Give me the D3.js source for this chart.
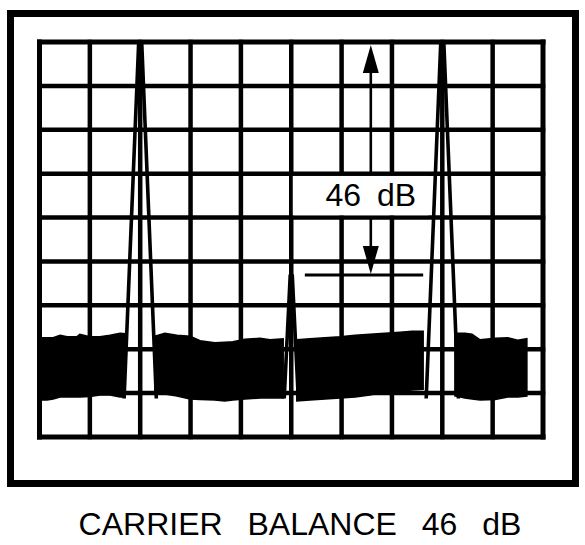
<!DOCTYPE html>
<html><head><meta charset="utf-8">
<script src="https://cdn.jsdelivr.net/npm/d3@7"></script>
<style>html,body{margin:0;padding:0;background:#fff;} svg{display:block;}</style>
</head><body>
<script>
// ---- reticle divisions ----
const xDivs = [0,1,2,3,4,5,6,7,8,9,10];
const yDivs = [0,1,2,3,4,5,6,7,8,9];

// ---- signal peaks: position (div), apex level (dB), half-width at floor / at apex (div) ----
const peakPos = [2, 5, 8];
const peakLevel = [0, -46, 0];
const peakHalfWidth = [0.32, 0.14, 0.32];
const peakTopHalfWidth = [0.03, 0.02, 0.03];
const peakFloor = -70.4;

// ---- reference marker ----
const refLevel = -46;
const refStart = 5.27, refEnd = 7.62;
const arrowX = 6.58;
const labelBoxX = [5.03, 7.72];
const labelText = "46 dB";
const caption = "CARRIER BALANCE 46 dB";

// ---- noise floor segments: [x div, top dB, bottom dB] ----
const noiseLeft = [
  [0.00, -58.4, -70.7], [0.15, -58.4, -70.7], [0.27, -58.4, -70.5],
  [0.41, -57.9, -70.1], [0.55, -58.2, -70.1], [0.74, -58.2, -70.1],
  [0.80, -57.7, -70.1], [1.00, -58.2, -70.0], [1.20, -58.2, -69.7],
  [1.40, -57.9, -69.7], [1.60, -57.5, -70.1], [1.70, -57.6, -70.1]
];
const noiseMid1 = [
  [2.29, -58.1, -69.3], [2.49, -57.5, -69.5], [2.73, -57.9, -69.9],
  [2.99, -58.1, -70.5], [3.19, -59.0, -70.6], [3.48, -59.4, -70.7],
  [3.68, -59.3, -70.9], [3.84, -59.2, -70.7], [4.08, -58.7, -70.5],
  [4.38, -58.5, -70.3], [4.58, -58.8, -70.3], [4.84, -58.6, -70.3]
];
const noiseMid2 = [
  [5.11, -58.8, -70.9], [5.37, -58.6, -70.7], [5.67, -58.4, -70.5],
  [5.97, -58.2, -70.3], [6.27, -57.9, -70.1], [6.56, -57.7, -69.7],
  [6.86, -57.5, -69.1], [7.16, -57.3, -68.9], [7.40, -57.1, -68.7],
  [7.62, -57.1, -68.6]
];
const noiseRight = [
  [8.25, -57.5, -69.9], [8.45, -57.5, -70.3], [8.59, -57.7, -70.5],
  [8.75, -58.8, -70.7], [9.05, -58.5, -70.6], [9.30, -58.4, -70.1],
  [9.50, -58.9, -70.1], [9.68, -58.6, -69.9]
];

const W = 585, H = 545;
const svg = d3.select("body").append("svg").attr("width", W).attr("height", H)
  .attr("font-family", "'Liberation Sans', Arial, Helvetica, sans-serif");

const x = d3.scaleLinear().domain([0, 10]).range([39.5, 543]);
const yDiv = d3.scaleLinear().domain([0, 9]).range([42, 437]);
const y = d3.scaleLinear().domain([0, -78]).range([42, 437]);

// outer frame
svg.append("rect").attr("x", 10.5).attr("y", 13.5).attr("width", 565).attr("height", 470)
  .attr("fill", "none").attr("stroke", "#000").attr("stroke-width", 7);

// grid
const g = svg.append("g");
g.selectAll(".vl").data(xDivs).join("line")
  .attr("x1", d => x(d)).attr("x2", d => x(d))
  .attr("y1", yDiv(0)).attr("y2", yDiv(9))
  .attr("stroke", "#000").attr("stroke-width", d => (d === 0 || d === 10) ? 5 : 4.5)
  .attr("stroke-linecap", "square");
g.selectAll(".hl").data(yDivs).join("line")
  .attr("y1", d => yDiv(d)).attr("y2", d => yDiv(d))
  .attr("x1", x(0)).attr("x2", x(10))
  .attr("stroke", "#000").attr("stroke-width", d => (d === 0 || d === 9) ? 5 : 4.5)
  .attr("stroke-linecap", "square");

// noise floor
const area = d3.area().x(d => x(d[0])).y0(d => y(d[2])).y1(d => y(d[1]));
svg.selectAll(".noise").data([noiseLeft, noiseMid1, noiseMid2, noiseRight]).join("path")
  .attr("d", area).attr("fill", "#000").attr("stroke", "#000").attr("stroke-width", 1.5);

// peaks
const line = d3.line().x(d => x(d[0])).y(d => y(d[1]));
svg.selectAll(".peak").data(peakPos.map((p, i) => [
  [p - peakHalfWidth[i], peakFloor], [p - peakTopHalfWidth[i], peakLevel[i]],
  [p + peakTopHalfWidth[i], peakLevel[i]], [p + peakHalfWidth[i], peakFloor]
])).join("path")
  .attr("d", line).attr("fill", "none").attr("stroke", "#000")
  .attr("stroke-width", 3.6).attr("stroke-linejoin", "bevel");

// label box
svg.append("rect")
  .attr("x", x(labelBoxX[0])).attr("width", x(labelBoxX[1]) - x(labelBoxX[0]))
  .attr("y", yDiv(3) + 2.3).attr("height", yDiv(4) - yDiv(3) - 4.6)
  .attr("fill", "#fff");
svg.append("text").attr("x", x(arrowX)).attr("y", yDiv(4) - 12)
  .attr("text-anchor", "middle").attr("font-size", 32).attr("word-spacing", 7)
  .text(labelText);

// arrows
const ax = x(arrowX);
svg.append("line").attr("x1", ax).attr("x2", ax).attr("y1", y(0) + 20).attr("y2", yDiv(3))
  .attr("stroke", "#000").attr("stroke-width", 2.6);
svg.append("path").attr("d", `M${ax},${y(0) + 3} L${ax - 8},${y(0) + 31} L${ax + 8},${y(0) + 31} Z`)
  .attr("fill", "#000");
svg.append("line").attr("x1", ax).attr("x2", ax).attr("y1", yDiv(4)).attr("y2", y(refLevel) - 20)
  .attr("stroke", "#000").attr("stroke-width", 2.6);
svg.append("path").attr("d", `M${ax},${y(refLevel) - 1} L${ax - 8},${y(refLevel) - 29} L${ax + 8},${y(refLevel) - 29} Z`)
  .attr("fill", "#000");

// reference line
svg.append("line").attr("x1", x(refStart)).attr("x2", x(refEnd))
  .attr("y1", y(refLevel)).attr("y2", y(refLevel))
  .attr("stroke", "#000").attr("stroke-width", 3);

// caption
svg.append("text").attr("x", 300).attr("y", 535)
  .attr("text-anchor", "middle").attr("font-size", 32).attr("word-spacing", 16)
  .text(caption);
</script>
</body></html>
